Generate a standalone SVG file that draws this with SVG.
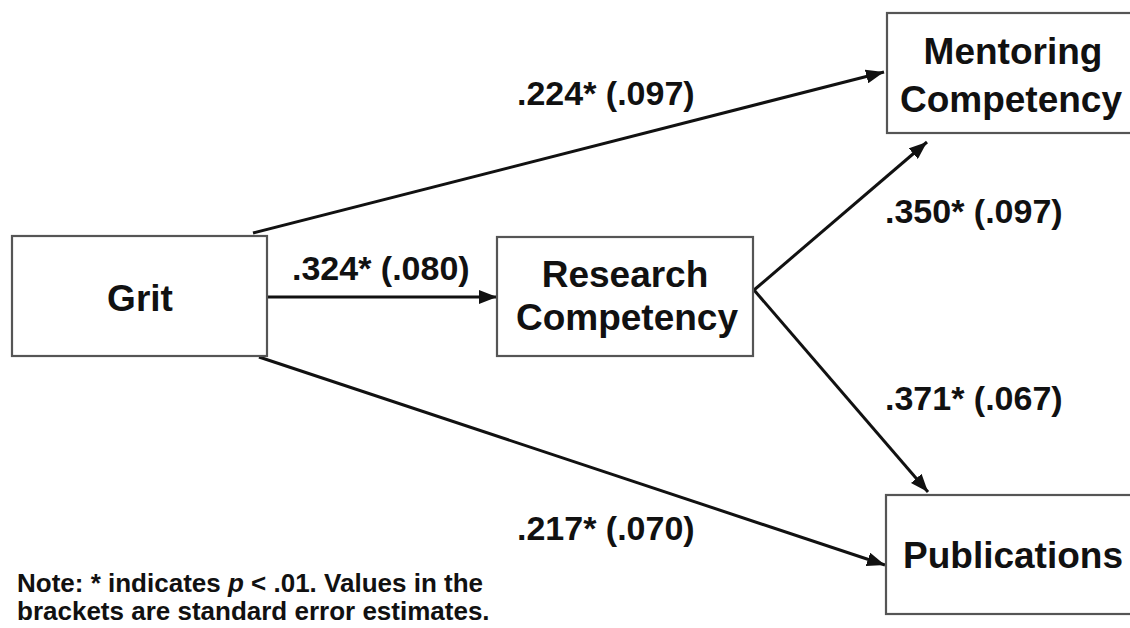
<svg xmlns="http://www.w3.org/2000/svg" width="1130" height="628" viewBox="0 0 1130 628">
<style>
.box{fill:#fff;stroke:#555;stroke-width:2.2}
.nt{font-family:"Liberation Sans",Arial,sans-serif;font-weight:bold;font-size:37px;fill:#111;text-anchor:middle}
.lb{font-family:"Liberation Sans",Arial,sans-serif;font-weight:bold;font-size:34px;fill:#111}
.note{font-family:"Liberation Sans",Arial,sans-serif;font-weight:bold;font-size:26px;fill:#111}
.edge{stroke:#111;stroke-width:3;fill:none;marker-end:url(#ah)}
</style>
<defs>
<marker id="ah" markerUnits="userSpaceOnUse" markerWidth="20" markerHeight="14" refX="18" refY="7" orient="auto">
<path d="M0,0 L18,7 L0,14 Z" fill="#111"/>
</marker>
</defs>
<rect width="1130" height="628" fill="#fff"/>
<g id="connectors">
<line class="edge" x1="253" y1="233" x2="884" y2="72"/>
<line class="edge" x1="266" y1="297" x2="497" y2="297"/>
<line class="edge" x1="259" y1="357" x2="885" y2="565"/>
<line class="edge" x1="754" y1="290" x2="927" y2="142"/>
<line class="edge" x1="754" y1="290" x2="928" y2="492"/>
</g>
<g id="labels">
<text class="lb" x="517" y="105">.224* (.097)</text>
<text class="lb" x="292" y="280">.324* (.080)</text>
<text class="lb" x="885" y="223">.350* (.097)</text>
<text class="lb" x="885" y="410">.371* (.067)</text>
<text class="lb" x="517" y="540">.217* (.070)</text>
</g>
<g id="grit">
<rect class="box" x="12" y="236" width="255" height="120"/>
<text class="nt" x="140" y="311">Grit</text>
</g>
<g id="research">
<rect class="box" x="497" y="237" width="256" height="119"/>
<text class="nt" x="625" y="287">Research</text>
<text class="nt" x="627" y="330">Competency</text>
</g>
<g id="mentoring">
<rect class="box" x="887" y="13" width="262" height="120"/>
<text class="nt" x="1013" y="64">Mentoring</text>
<text class="nt" x="1011" y="112">Competency</text>
</g>
<g id="publications">
<rect class="box" x="886" y="495" width="262" height="119"/>
<text class="nt" x="1013" y="568">Publications</text>
</g>
<g id="note">
<text class="note" x="17" y="592">Note: * indicates <tspan font-style="italic">p</tspan> &lt; .01. Values in the</text>
<text class="note" x="17" y="620">brackets are standard error estimates.</text>
</g>
</svg>
